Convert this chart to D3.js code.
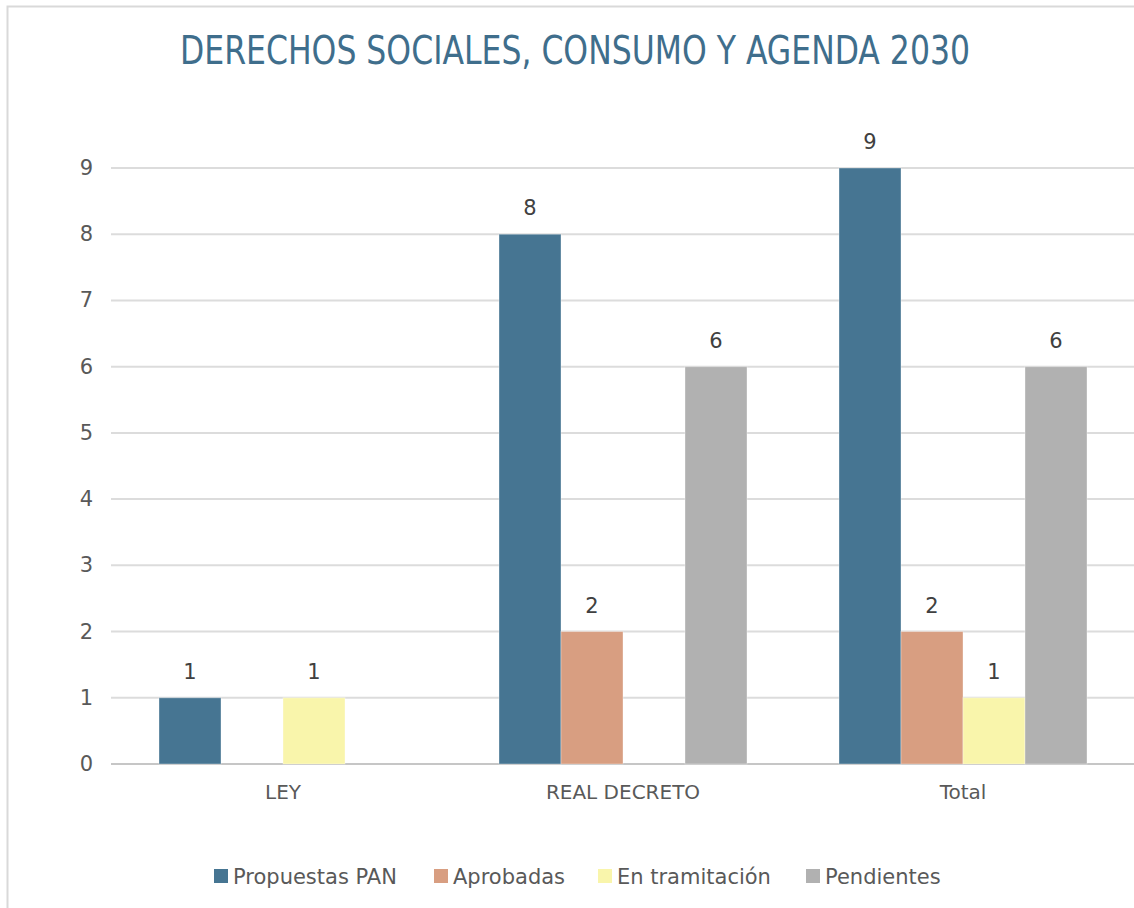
<!DOCTYPE html>
<html>
<head>
<meta charset="utf-8">
<script src="https://cdn.jsdelivr.net/npm/d3@7"></script>
<style>
  body { margin: 0; background: #fff; }
  svg { display: block; }
  .tick-label { font-family: "DejaVu Sans", Verdana, sans-serif; fill: #595959; }
</style>
</head>
<body>
<svg id="chart"></svg>
<script>
// data
const categories = ["LEY", "REAL DECRETO", "Total"];
const seriesNames = ["Propuestas PAN", "Aprobadas", "En tramitación", "Pendientes"];
const propuestas = [1, 8, 9];
const aprobadas = [null, 2, 2];
const enTramitacion = [1, null, 1];
const pendientes = [null, 6, 6];
const yTicks = [0, 1, 2, 3, 4, 5, 6, 7, 8, 9];
const colors = ["#467592", "#d89e81", "#f9f5ab", "#b1b1b1"];

const width = 1134, height = 908;
const margin = { top: 168, right: 0, bottom: 144, left: 113 };

const svg = d3.select("#chart")
  .attr("width", width)
  .attr("height", height);

// frame of the chart area
svg.append("path")
  .attr("d", `M7.5,${height} V6.5 H${width}`)
  .attr("fill", "none")
  .attr("stroke", "#d9d9d9")
  .attr("stroke-width", 2);

// title
svg.append("text")
  .attr("x", 575)
  .attr("y", 64)
  .attr("text-anchor", "middle")
  .attr("textLength", 790)
  .attr("lengthAdjust", "spacingAndGlyphs")
  .style("font-family", "'DejaVu Sans Condensed', 'DejaVu Sans', sans-serif")
  .style("font-stretch", "condensed")
  .style("font-size", "39px")
  .style("fill", "#3f6e8c")
  .text("DERECHOS SOCIALES, CONSUMO Y AGENDA 2030");

const rows = categories.map((c, i) => ({
  cat: c,
  values: [propuestas[i], aprobadas[i], enTramitacion[i], pendientes[i]]
}));

const x0 = d3.scaleBand()
  .domain(categories)
  .range([margin.left, 1133]);

const x1 = d3.scaleBand()
  .domain(seriesNames)
  .range([46, 294]);

const y = d3.scaleLinear()
  .domain([0, 9])
  .range([height - margin.bottom, margin.top]);

// grid lines
svg.append("g")
  .selectAll("line")
  .data(yTicks)
  .enter().append("line")
  .attr("x1", margin.left - 2)
  .attr("x2", width)
  .attr("y1", d => y(d))
  .attr("y2", d => y(d))
  .attr("stroke", d => d === 0 ? "#c6c6c6" : "#dcdcdc")
  .attr("stroke-width", 2);

// y tick labels
svg.append("g")
  .selectAll("text")
  .data(yTicks)
  .enter().append("text")
  .attr("class", "tick-label")
  .attr("x", 93)
  .attr("y", d => y(d) + 7)
  .attr("text-anchor", "end")
  .style("font-size", "21px")
  .text(d => d);

// bars
const groups = svg.selectAll(".group")
  .data(rows)
  .enter().append("g")
  .attr("class", "group")
  .attr("transform", d => `translate(${x0(d.cat)},0)`);

const cells = d => d.values.map((v, j) => ({ name: seriesNames[j], v: v, j: j })).filter(e => e.v != null);

groups.selectAll("rect")
  .data(cells)
  .enter().append("rect")
  .attr("x", e => x1(e.name))
  .attr("y", e => y(e.v))
  .attr("width", x1.bandwidth())
  .attr("height", e => y(0) - y(e.v))
  .attr("fill", e => colors[e.j])
  .attr("stroke", "rgba(255,255,255,0.35)")
  .attr("stroke-width", 1);

// value labels
groups.selectAll(".label")
  .data(cells)
  .enter().append("text")
  .attr("class", "label")
  .attr("x", e => x1(e.name) + x1.bandwidth() / 2)
  .attr("y", e => y(e.v) - 19)
  .attr("text-anchor", "middle")
  .style("font-family", "'DejaVu Sans', Verdana, sans-serif")
  .style("font-size", "21px")
  .style("fill", "#404040")
  .text(e => e.v);

// category labels
svg.append("g")
  .selectAll("text")
  .data(categories)
  .enter().append("text")
  .attr("class", "tick-label")
  .attr("x", d => x0(d) + x0.bandwidth() / 2)
  .attr("y", y(0) + 35)
  .attr("text-anchor", "middle")
  .style("font-size", "20px")
  .text(d => d);

// legend
const legendX = [214, 434, 598, 806];
const legend = svg.append("g")
  .selectAll("g")
  .data(seriesNames)
  .enter().append("g")
  .attr("transform", (d, i) => `translate(${legendX[i]},876)`);

legend.append("rect")
  .attr("x", 0)
  .attr("y", -7)
  .attr("width", 14)
  .attr("height", 14)
  .attr("fill", (d, i) => colors[i]);

legend.append("text")
  .attr("x", 19)
  .attr("y", 8)
  .style("font-family", "'DejaVu Sans', Verdana, sans-serif")
  .style("font-size", "21px")
  .style("fill", "#595959")
  .text(d => d);
</script>
</body>
</html>
